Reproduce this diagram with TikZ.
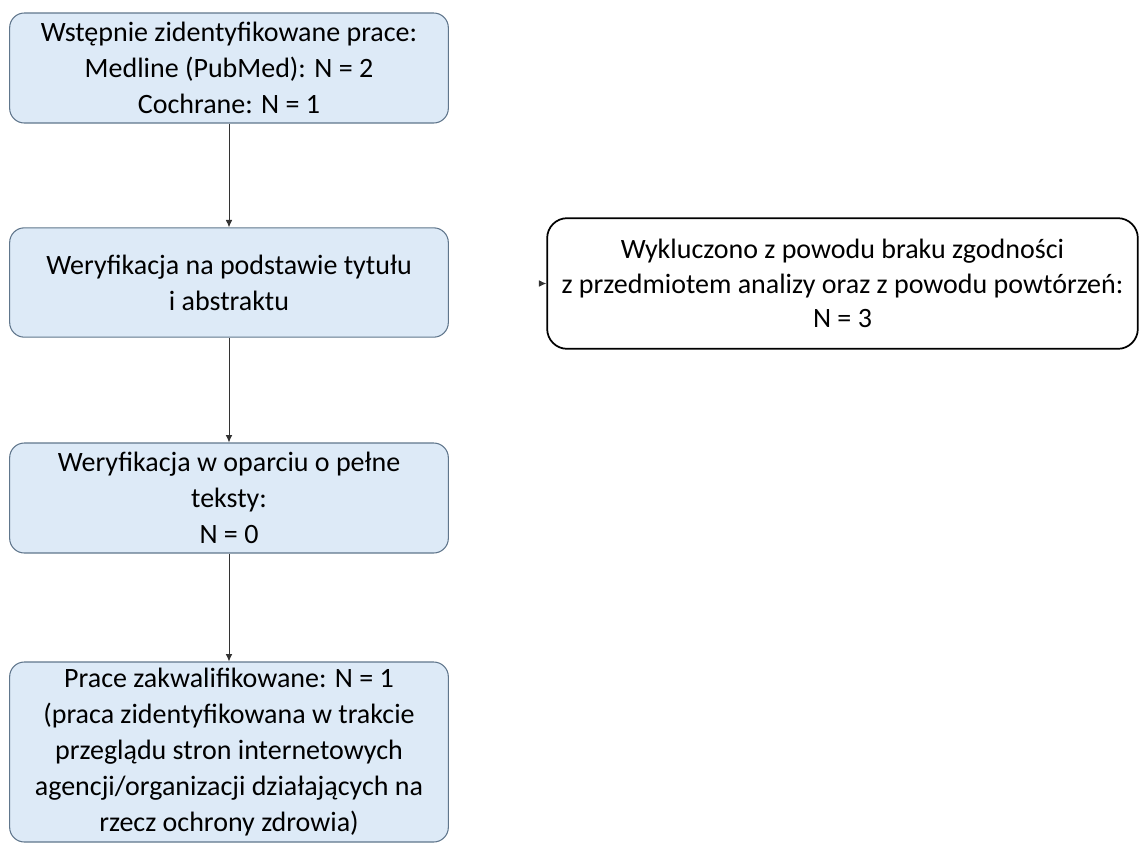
\documentclass[tikz,border=0pt]{standalone}
\usepackage{fontspec}
\setmainfont{Carlito}
\usetikzlibrary{arrows.meta}
\definecolor{boxfill}{RGB}{221,234,247}
\definecolor{boxdraw}{RGB}{96,118,140}
\tikzset{
  flowbox/.style={draw=boxdraw, line width=0.8pt, fill=boxfill, rounded corners=11pt,
    align=center, inner sep=2pt, minimum width=329pt,
    font=\fontsize{21pt}{27pt}\selectfont},
  exclbox/.style={draw=black, line width=1.3pt, fill=white, rounded corners=15pt,
    align=center, inner sep=2pt, minimum width=443pt, minimum height=98pt,
    font=\fontsize{21pt}{26pt}\selectfont},
  conn/.style={draw=black!80, line width=0.7pt, -{Latex[length=5.5pt,width=5pt]}}
}
\begin{document}
\begin{tikzpicture}[x=0.75pt,y=-0.75pt]
\useasboundingbox (0,0) rectangle (1140,843);
\node[flowbox, minimum height=82.5pt] (b1) at (229,68)
  {Wstępnie zidentyfikowane prace:\\Medline (PubMed): N = 2\\Cochrane: N = 1};
\node[flowbox, minimum height=82pt] (b2) at (229,282.5)
  {Weryfikacja na podstawie tytułu\\i abstraktu};
\node[flowbox, minimum height=82.5pt] (b3) at (229,498)
  {Weryfikacja w oparciu o pełne\\teksty:\\N = 0};
\node[flowbox, minimum height=135pt] (b4) at (229,752)
  {Prace zakwalifikowane: N = 1\\(praca zidentyfikowana w trakcie\\przeglądu stron internetowych\\agencji/organizacji działających na\\rzecz ochrony zdrowia)};
\node[exclbox] (ex) at (842.5,283.5)
  {Wykluczono z powodu braku zgodności\\z przedmiotem analizy oraz z powodu powtórzeń:\\N = 3};
\coordinate (extip) at (540,283.5);
\draw[conn] (b1.south) -- (b2.north);
\draw[conn] (b2.south) -- (b3.north);
\draw[conn] (b3.south) -- (b4.north);
\draw[conn] (extip) -- (ex.west);
\end{tikzpicture}
\end{document}
